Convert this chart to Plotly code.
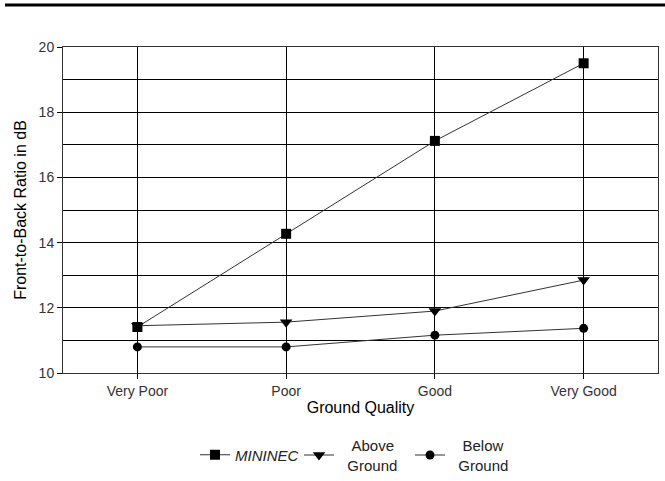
import plotly.graph_objects as go

categories = ["Very Poor", "Poor", "Good", "Very Good"]
mininec = [11.41, 14.27, 17.12, 19.5]
above_ground = [11.45, 11.56, 11.9, 12.85]
below_ground = [10.8, 10.8, 11.16, 11.37]
y_ticks = [10, 12, 14, 16, 18, 20]

NB = "\u00a0"
fig = go.Figure()
series = [
    ("<i>MININEC</i>", mininec, "square", 10, "legend"),
    (NB * 3 + "Above<br>" + NB * 2 + "Ground", above_ground, "triangle-down", 11, "legend2"),
    (NB * 3 + "Below<br>" + NB * 2 + "Ground", below_ground, "circle", 9, "legend3"),
]
for name, vals, sym, sz, lg in series:
    fig.add_trace(go.Scatter(
        x=categories, y=vals, name=name, mode="lines+markers",
        line=dict(color="#333333", width=1),
        marker=dict(symbol=sym, color="black", size=sz),
        legend=lg,
    ))

def px_x(p):
    return (p - 63) / 595.0

leg_y = (373 - 455) / 326.0
leg_common = dict(orientation="h", yanchor="middle", y=leg_y, xanchor="left",
                  font=dict(size=15, color="#222"), valign="middle",
                  itemwidth=30, bgcolor="rgba(0,0,0,0)")

fig.update_layout(
    width=665, height=481,
    margin=dict(l=63, r=7, t=47, b=108, autoexpand=False),
    paper_bgcolor="white", plot_bgcolor="white",
    font=dict(family="Liberation Sans, Arial, sans-serif", size=14, color="#222"),
    showlegend=True,
    legend=dict(x=px_x(195), **leg_common),
    legend2=dict(x=px_x(299), **leg_common),
    legend3=dict(x=px_x(410), **leg_common),
    shapes=[dict(type="line", xref="paper", yref="paper", x0=-0.0975, x1=1.012,
                 y0=1.129, y1=1.129, line=dict(color="black", width=3))],
)
fig.update_xaxes(
    type="category", categoryorder="array", categoryarray=categories,
    range=[-0.5, 3.5], showgrid=True, gridcolor="black", gridwidth=1,
    showline=True, linecolor="#333", linewidth=1, mirror=True,
    ticks="outside", ticklen=5, tickcolor="black", automargin=False,
    title=dict(text="Ground Quality", font=dict(size=16, color="black"), standoff=4),
    tickfont=dict(size=14, color="#333"),
)
fig.update_yaxes(
    range=[10, 20], tickvals=y_ticks, showgrid=True, gridcolor="black", gridwidth=1,
    minor=dict(dtick=1, showgrid=True, gridcolor="black", gridwidth=1),
    showline=True, linecolor="#333", linewidth=1, mirror=True,
    ticks="outside", ticklen=5, tickcolor="black", zeroline=False, automargin=False,
    title=dict(text="Front-to-Back Ratio in dB", font=dict(size=16, color="black"), standoff=8),
    tickfont=dict(size=14, color="#333"),
)

fig.write_html("out.html", config={"displayModeBar": False},
               post_script="document.body.style.margin='0';")
